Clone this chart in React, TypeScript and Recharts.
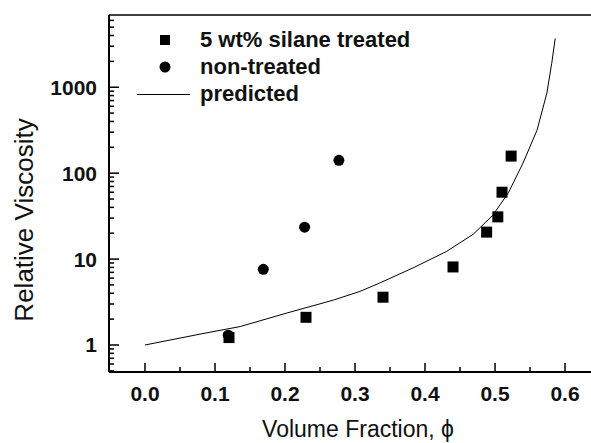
import React from 'react';
import { ScatterChart, Scatter, XAxis, YAxis, ReferenceLine, Legend } from 'recharts';

const treatedX = [0.12, 0.23, 0.34, 0.44, 0.488, 0.504, 0.51, 0.523];
const treatedY = [1.22, 2.1, 3.6, 8.1, 20.6, 31, 60, 158];
const nonTreatedX = [0.119, 0.169, 0.228, 0.277];
const nonTreatedY = [1.3, 7.6, 23.5, 141];
const predictedX = [0, 0.083, 0.136, 0.203, 0.269, 0.307, 0.336, 0.383, 0.431, 0.469, 0.497, 0.519, 0.54, 0.56, 0.574, 0.581, 0.586];
const predictedY = [1, 1.36, 1.64, 2.36, 3.33, 4.2, 5.3, 7.9, 12.3, 19.5, 32.5, 59, 131, 316, 850, 1900, 3700];

const xTicks = [0, 0.05, 0.1, 0.15, 0.2, 0.25, 0.3, 0.35, 0.4, 0.45, 0.5, 0.55, 0.6];
const xMajorLabels = ['0.0', '0.1', '0.2', '0.3', '0.4', '0.5', '0.6'];
const yMajor = [1, 10, 100, 1000];
const yMajorLabels = ['1', '10', '100', '1000'];
const yTicks = [0.5, 0.6, 0.7, 0.8, 0.9, 1, 2, 3, 4, 5, 6, 7, 8, 9, 10, 20, 30, 40, 50, 60, 70, 80, 90, 100, 200, 300, 400, 500, 600, 700, 800, 900, 1000, 2000, 3000, 4000, 5000, 6000];

const xDomain = [-0.0514, 0.6371];
const yDomain = [0.485, 6930];

const xTitle = 'Volume Fraction, \u03d5';
const yTitle = 'Relative Viscosity';
const legendLabels = ['5 wt% silane treated', 'non-treated', 'predicted'];

const treated = treatedX.map((x, i) => ({ x, y: treatedY[i] }));
const nonTreated = nonTreatedX.map((x, i) => ({ x, y: nonTreatedY[i] }));
const predicted = predictedX.map((x, i) => ({ x, y: predictedY[i] }));

const isXMajor = (v: number) => Math.abs(v * 10 - Math.round(v * 10)) < 1e-6;
const isYMajor = (v: number) => yMajor.some((m) => Math.abs(m - v) < 1e-9);

const xTickMarks = xTicks.map((v) => ({ x: v, y: yDomain[0], major: isXMajor(v) }));
const yTickMarks = yTicks.map((v) => ({ x: xDomain[0], y: v, major: isYMajor(v) }));

const FONT = '"Liberation Sans", Arial, Helvetica, sans-serif';

const XTick = (props: any) => {
  const x = Number(props.x);
  const y = Number(props.y);
  const v = props.payload.value;
  const idx = Math.round(v * 10);
  if (!isXMajor(v)) return null;
  return (
    <text x={x} y={y + 29} textAnchor="middle" fontFamily={FONT} fontWeight="bold" fontSize={21} fill="#111">
      {xMajorLabels[idx]}
    </text>
  );
};

const YTick = (props: any) => {
  const x = Number(props.x);
  const y = Number(props.y);
  const v = props.payload.value;
  const mi = yMajor.findIndex((m) => Math.abs(m - v) < 1e-9);
  if (mi < 0) return null;
  return (
    <text x={x - 12} y={y + 7.5} textAnchor="end" fontFamily={FONT} fontWeight="bold" fontSize={21} fill="#111">
      {yMajorLabels[mi]}
    </text>
  );
};

const XTickMark = (props: any) => {
  const { cx, cy, payload } = props;
  if (cx == null || cy == null) return null;
  const len = payload && payload.major ? 9 : 5;
  return <rect x={cx - 0.75} y={cy - len} width={1.5} height={len} fill="#000" />;
};

const YTickMark = (props: any) => {
  const { cx, cy, payload } = props;
  if (cx == null || cy == null) return null;
  const len = payload && payload.major ? 10 : 5;
  return <rect x={cx} y={cy - 0.75} width={len} height={1.5} fill="#000" />;
};

const XTitle = () => (
  <text x={358} y={437} textAnchor="middle" fontFamily={FONT} fontSize={23} fill="#111">
    {xTitle}
  </text>
);

const YTitle = () => (
  <text x={33} y={220} transform="rotate(-90 33 220)" textAnchor="middle" fontFamily={FONT} fontSize={26} fill="#111">
    {yTitle}
  </text>
);

const SquareShape = (props: any) => {
  const { cx, cy } = props;
  if (cx == null || cy == null) return null;
  return <rect x={cx - 5.5} y={cy - 5.5} width={11} height={11} fill="#000" />;
};

const CircleShape = (props: any) => {
  const { cx, cy } = props;
  if (cx == null || cy == null) return null;
  return <circle cx={cx} cy={cy} r={5.5} fill="#000" />;
};

const NoShape = () => null;

const renderLegend = () => (
  <svg width={591} height={443} style={{ position: 'absolute', left: 0, top: 0 }}>
    <rect x={160} y={35} width={10} height={10} fill="#000" />
    <circle cx={165} cy={67} r={5.5} fill="#000" />
    <line x1={137} x2={190} y1={94.5} y2={94.5} stroke="#000" strokeWidth={1} />
    <text x={200} y={47} fontFamily={FONT} fontWeight="bold" fontSize={22} fill="#111">{legendLabels[0]}</text>
    <text x={200} y={74} fontFamily={FONT} fontWeight="bold" fontSize={22} fill="#111">{legendLabels[1]}</text>
    <text x={200} y={101} fontFamily={FONT} fontWeight="bold" fontSize={22} fill="#111">{legendLabels[2]}</text>
  </svg>
);

export default function App() {
  return (
    <div style={{ position: 'absolute', left: 0, top: 0, width: 591, height: 443, background: '#fff' }}>
      <ScatterChart width={591} height={443} margin={{ top: 15, right: 0, bottom: 0, left: 0 }}>
        <XAxis
          type="number"
          dataKey="x"
          domain={xDomain}
          ticks={xTicks}
          allowDataOverflow
          height={71}
          tickSize={0}
          tickMargin={0}
          tickLine={false}
          tick={<XTick />}
          interval={0}
          axisLine={{ stroke: '#000', strokeWidth: 2 }}
          label={<XTitle />}
        />
        <YAxis
          type="number"
          dataKey="y"
          scale="log"
          domain={yDomain}
          ticks={yTicks}
          allowDataOverflow
          width={109}
          tickSize={0}
          tickMargin={0}
          tickLine={false}
          tick={<YTick />}
          interval={0}
          axisLine={{ stroke: '#000', strokeWidth: 2 }}
          label={<YTitle />}
        />
        <ReferenceLine y={yDomain[1]} stroke="#000" strokeWidth={1.5} />
        <Legend layout="horizontal" verticalAlign="middle" align="center" content={renderLegend} wrapperStyle={{ left: 0, top: 0, width: 591, height: 443, pointerEvents: 'none' }} />
        <Scatter name="xticks" legendType="none" data={xTickMarks} shape={<XTickMark />} isAnimationActive={false} />
        <Scatter name="yticks" legendType="none" data={yTickMarks} shape={<YTickMark />} isAnimationActive={false} />
        <Scatter name="predicted" data={predicted} line={{ stroke: '#000', strokeWidth: 1 }} lineType="joint" shape={<NoShape />} isAnimationActive={false} />
        <Scatter name="non-treated" data={nonTreated} shape={<CircleShape />} isAnimationActive={false} />
        <Scatter name="5 wt% silane treated" data={treated} shape={<SquareShape />} isAnimationActive={false} />
      </ScatterChart>
    </div>
  );
}
